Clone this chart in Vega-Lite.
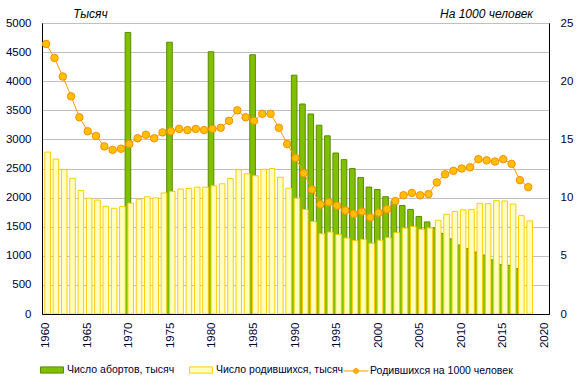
{
  "$schema": "https://vega.github.io/schema/vega-lite/v6.json",
  "width": 507,
  "height": 291,
  "autosize": {"type": "none"},
  "padding": {"left": 42, "top": 23, "right": 28, "bottom": 77},
  "background": "white",
  "config": {
    "font": "Liberation Sans",
    "view": {"stroke": "black", "strokeWidth": 1},
    "axis": {"labelFont": "Liberation Sans", "labelFontSize": 11.5, "labelColor": "#000033", "domainColor": "black", "ticks": false, "tickSize": 0, "titleFont": "Liberation Sans", "titleFontSize": 12, "titleFontStyle": "italic", "titleFontWeight": "normal", "titleColor": "black"}
  },
  "data": {"values": [
    {"year": 1960, "births": 2782, "abortions": null, "rate": 23.2},
    {"year": 1961, "births": 2662, "abortions": null, "rate": 22.0},
    {"year": 1962, "births": 2482, "abortions": null, "rate": 20.4},
    {"year": 1963, "births": 2332, "abortions": null, "rate": 18.7},
    {"year": 1964, "births": 2121, "abortions": null, "rate": 16.9},
    {"year": 1965, "births": 1991, "abortions": null, "rate": 15.7},
    {"year": 1966, "births": 1957, "abortions": null, "rate": 15.3},
    {"year": 1967, "births": 1851, "abortions": null, "rate": 14.4},
    {"year": 1968, "births": 1817, "abortions": null, "rate": 14.1},
    {"year": 1969, "births": 1848, "abortions": null, "rate": 14.2},
    {"year": 1970, "births": 1904, "abortions": 4838, "rate": 14.6},
    {"year": 1971, "births": 1974, "abortions": null, "rate": 15.1},
    {"year": 1972, "births": 2015, "abortions": null, "rate": 15.4},
    {"year": 1973, "births": 1995, "abortions": null, "rate": 15.1},
    {"year": 1974, "births": 2080, "abortions": null, "rate": 15.6},
    {"year": 1975, "births": 2106, "abortions": 4670, "rate": 15.7},
    {"year": 1976, "births": 2147, "abortions": null, "rate": 15.9},
    {"year": 1977, "births": 2156, "abortions": null, "rate": 15.8},
    {"year": 1978, "births": 2179, "abortions": null, "rate": 15.9},
    {"year": 1979, "births": 2179, "abortions": null, "rate": 15.8},
    {"year": 1980, "births": 2203, "abortions": 4506, "rate": 15.9},
    {"year": 1981, "births": 2237, "abortions": null, "rate": 16.0},
    {"year": 1982, "births": 2328, "abortions": null, "rate": 16.6},
    {"year": 1983, "births": 2479, "abortions": null, "rate": 17.5},
    {"year": 1984, "births": 2409, "abortions": null, "rate": 16.9},
    {"year": 1985, "births": 2375, "abortions": 4454, "rate": 16.6},
    {"year": 1986, "births": 2486, "abortions": null, "rate": 17.2},
    {"year": 1987, "births": 2500, "abortions": null, "rate": 17.2},
    {"year": 1988, "births": 2348, "abortions": null, "rate": 16.0},
    {"year": 1989, "births": 2161, "abortions": null, "rate": 14.6},
    {"year": 1990, "births": 1989, "abortions": 4103, "rate": 13.4},
    {"year": 1991, "births": 1795, "abortions": 3608, "rate": 12.1},
    {"year": 1992, "births": 1588, "abortions": 3437, "rate": 10.7},
    {"year": 1993, "births": 1379, "abortions": 3244, "rate": 9.4},
    {"year": 1994, "births": 1408, "abortions": 3061, "rate": 9.6},
    {"year": 1995, "births": 1364, "abortions": 2766, "rate": 9.3},
    {"year": 1996, "births": 1305, "abortions": 2652, "rate": 8.9},
    {"year": 1997, "births": 1260, "abortions": 2499, "rate": 8.6},
    {"year": 1998, "births": 1283, "abortions": 2346, "rate": 8.8},
    {"year": 1999, "births": 1215, "abortions": 2181, "rate": 8.3},
    {"year": 2000, "births": 1267, "abortions": 2139, "rate": 8.7},
    {"year": 2001, "births": 1312, "abortions": 2015, "rate": 9.0},
    {"year": 2002, "births": 1397, "abortions": 1945, "rate": 9.7},
    {"year": 2003, "births": 1477, "abortions": 1864, "rate": 10.2},
    {"year": 2004, "births": 1502, "abortions": 1797, "rate": 10.4},
    {"year": 2005, "births": 1457, "abortions": 1676, "rate": 10.2},
    {"year": 2006, "births": 1479, "abortions": 1582, "rate": 10.3},
    {"year": 2007, "births": 1610, "abortions": 1480, "rate": 11.3},
    {"year": 2008, "births": 1714, "abortions": 1385, "rate": 12.0},
    {"year": 2009, "births": 1762, "abortions": 1292, "rate": 12.3},
    {"year": 2010, "births": 1789, "abortions": 1186, "rate": 12.5},
    {"year": 2011, "births": 1797, "abortions": 1124, "rate": 12.6},
    {"year": 2012, "births": 1902, "abortions": 1064, "rate": 13.3},
    {"year": 2013, "births": 1896, "abortions": 1012, "rate": 13.2},
    {"year": 2014, "births": 1947, "abortions": 930, "rate": 13.1},
    {"year": 2015, "births": 1941, "abortions": 848, "rate": 13.3},
    {"year": 2016, "births": 1888, "abortions": 836, "rate": 12.9},
    {"year": 2017, "births": 1690, "abortions": 779, "rate": 11.5},
    {"year": 2018, "births": 1600, "abortions": null, "rate": 10.9}
  ]},
  "encoding": {
    "x": {
      "field": "year",
      "type": "ordinal",
      "scale": {
        "domain": [1960,1961,1962,1963,1964,1965,1966,1967,1968,1969,1970,1971,1972,1973,1974,1975,1976,1977,1978,1979,1980,1981,1982,1983,1984,1985,1986,1987,1988,1989,1990,1991,1992,1993,1994,1995,1996,1997,1998,1999,2000,2001,2002,2003,2004,2005,2006,2007,2008,2009,2010,2011,2012,2013,2014,2015,2016,2017,2018,2019,2020],
        "paddingInner": 0,
        "paddingOuter": 0
      },
      "axis": {"values": [1960,1965,1970,1975,1980,1985,1990,1995,2000,2005,2010,2015,2020], "labelAngle": 270, "labelPadding": 8, "title": null, "grid": false, "zindex": 1}
    }
  },
  "layer": [
    {
      "layer": [
        {
          "transform": [{"filter": "datum.abortions != null"}],
          "mark": {"type": "bar", "width": 5.6, "xOffset": -1.35, "strokeWidth": 1},
          "encoding": {
            "y": {"field": "abortions", "type": "quantitative", "scale": {"domain": [0, 5000], "nice": false},
              "axis": {"values": [0,500,1000,1500,2000,2500,3000,3500,4000,4500,5000], "format": "d", "title": "Тысяч", "titleAngle": 0, "titleX": 48, "titleY": -6, "titleAlign": "center", "titleBaseline": "alphabetic", "labelPadding": 11, "grid": true, "gridColor": "#c0c0c0", "gridWidth": 1}},
            "fill": {
              "datum": "Число абортов, тысяч",
              "scale": {"domain": ["Число абортов, тысяч", "Число родившихся, тысяч"], "range": ["#80c000", "#ffffc0"]},
              "legend": {"orient": "none", "legendX": -2, "legendY": 335, "direction": "horizontal", "gridAlign": "none", "title": null, "labelFont": "Liberation Sans", "labelFontSize": 10.5, "labelColor": "#000033", "labelOffset": 3, "columnPadding": 12, "symbolSize": 529, "symbolType": "M-1,-0.27H1V0.27H-1Z", "symbolStrokeWidth": 1, "padding": 0}
            },
            "stroke": {
              "datum": "Число абортов, тысяч",
              "scale": {"domain": ["Число абортов, тысяч", "Число родившихся, тысяч"], "range": ["#5a8a00", "#ffcc00"]},
              "legend": {"orient": "none", "legendX": -2, "legendY": 335, "direction": "horizontal", "gridAlign": "none", "title": null, "labelFont": "Liberation Sans", "labelFontSize": 10.5, "labelColor": "#000033", "labelOffset": 3, "columnPadding": 12, "symbolSize": 529, "symbolType": "M-1,-0.27H1V0.27H-1Z", "symbolStrokeWidth": 1, "padding": 0}
            }
          }
        },
        {
          "mark": {"type": "bar", "width": 5.6, "xOffset": 1.45, "strokeWidth": 1},
          "encoding": {
            "y": {"field": "births", "type": "quantitative", "scale": {"domain": [0, 5000], "nice": false},
              "axis": {"values": [0,500,1000,1500,2000,2500,3000,3500,4000,4500,5000], "format": "d", "title": "Тысяч", "titleAngle": 0, "titleX": 48, "titleY": -6, "titleAlign": "center", "titleBaseline": "alphabetic", "labelPadding": 11, "grid": true, "gridColor": "#c0c0c0", "gridWidth": 1}},
            "fill": {"datum": "Число родившихся, тысяч", "legend": null},
            "stroke": {"datum": "Число родившихся, тысяч", "legend": null}
          }
        }
      ]
    },
    {
      "layer": [
        {
          "mark": {"type": "line", "strokeWidth": 1},
          "encoding": {
            "y": {"field": "rate", "type": "quantitative", "scale": {"domain": [0, 25], "nice": false},
              "axis": {"orient": "right", "values": [0,5,10,15,20,25], "title": "На 1000 человек", "titleAngle": 0, "titleX": -63, "titleY": -6, "titleAlign": "center", "titleBaseline": "alphabetic", "labelPadding": 11, "grid": false, "zindex": 1}},
            "color": {
              "datum": "Родившихся на 1000 человек",
              "scale": {"domain": ["Родившихся на 1000 человек"], "range": ["#ff9900"]},
              "legend": {"orient": "none", "legendX": 301, "legendY": 335, "direction": "horizontal", "title": null, "labelFont": "Liberation Sans", "labelFontSize": 10.5, "labelColor": "#000033", "labelOffset": 1, "symbolSize": 625, "symbolType": "M-1,0H1M0.2,0A0.2,0.2,0,1,1,-0.2,0A0.2,0.2,0,1,1,0.2,0", "symbolFillColor": "#ffc000", "symbolStrokeWidth": 1, "padding": 0}
            }
          }
        },
        {
          "mark": {"type": "point", "shape": "circle", "filled": true, "size": 56, "fill": "#ffc000", "stroke": "#ff8c00", "strokeWidth": 1, "opacity": 1},
          "encoding": {
            "y": {"field": "rate", "type": "quantitative"}
          }
        }
      ]
    }
  ],
  "resolve": {"scale": {"y": "independent"}}
}
